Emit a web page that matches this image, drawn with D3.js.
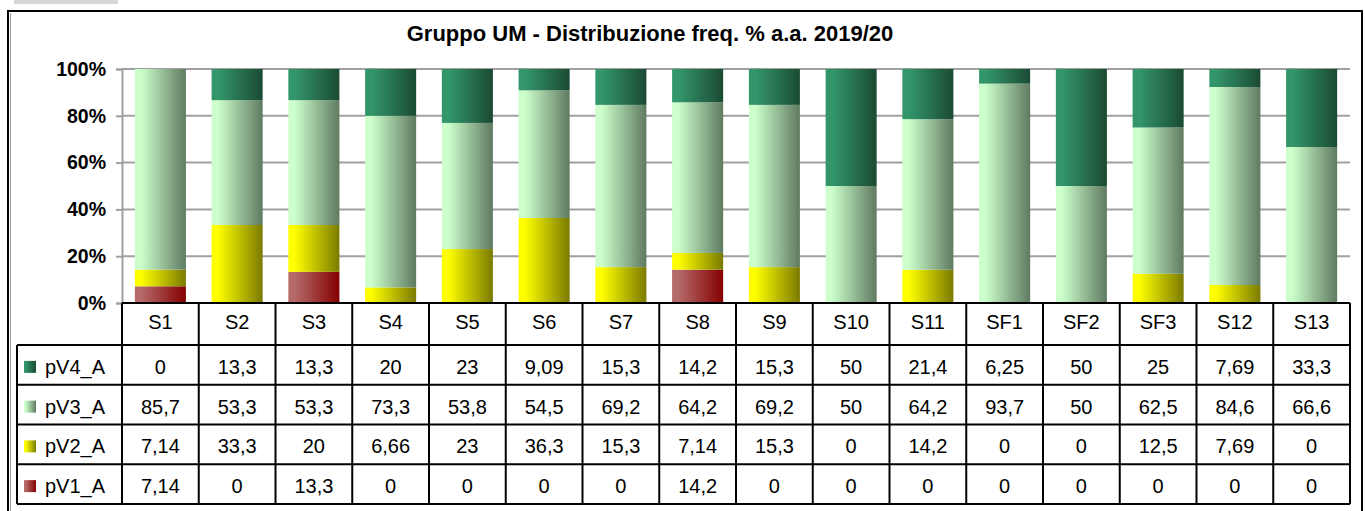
<!DOCTYPE html>
<html lang="it">
<head>
<meta charset="UTF-8">
<title>Gruppo UM - Distribuzione freq. %</title>
<script src="https://d3js.org/d3.v7.min.js"></script>
<style>
  body { margin: 0; background: #fff; }
  svg { display: block; font-family: Arial, "Liberation Sans", sans-serif; }
</style>
</head>
<body>
<svg id="chart" width="1365" height="511"></svg>
<script>
const title = "Gruppo UM - Distribuzione freq. % a.a. 2019/20";
const categories = ["S1","S2","S3","S4","S5","S6","S7","S8","S9","S10","S11","SF1","SF2","SF3","S12","S13"];
const seriesNames = ["pV4_A","pV3_A","pV2_A","pV1_A"]; // table order, top to bottom
const pV4 = [0,13.3,13.3,20,23,9.09,15.3,14.2,15.3,50,21.4,6.25,50,25,7.69,33.3];
const pV3 = [85.7,53.3,53.3,73.3,53.8,54.5,69.2,64.2,69.2,50,64.2,93.7,50,62.5,84.6,66.6];
const pV2 = [7.14,33.3,20,6.66,23,36.3,15.3,7.14,15.3,0,14.2,0,0,12.5,7.69,0];
const pV1 = [7.14,0,13.3,0,0,0,0,14.2,0,0,0,0,0,0,0,0];
const yTicks = [0, 0.2, 0.4, 0.6, 0.8, 1];

const seriesValues = { pV4_A: pV4, pV3_A: pV3, pV2_A: pV2, pV1_A: pV1 };
// gradient colours: light (left) -> dark (right)
const colors = {
  pV4_A: ["#33966b", "#1a4a33"],
  pV3_A: ["#ccffcc", "#5f7a60"],
  pV2_A: ["#ffff00", "#7a7a00"],
  pV1_A: ["#b56a6a", "#850000"]
};

const svg = d3.select("#chart");
const defs = svg.append("defs");
seriesNames.forEach(s => {
  const g = defs.append("linearGradient").attr("id", "g_" + s)
    .attr("x1", "0%").attr("x2", "100%").attr("y1", "0%").attr("y2", "0%");
  g.append("stop").attr("offset", "0%").attr("stop-color", colors[s][0]);
  g.append("stop").attr("offset", "12%").attr("stop-color", colors[s][0]);
  g.append("stop").attr("offset", "100%").attr("stop-color", colors[s][1]);
});

// small grey strip and chart border
svg.append("rect").attr("x", 14).attr("y", 0).attr("width", 104).attr("height", 4).attr("fill", "#d6d6d6");
svg.append("rect").attr("x", 8).attr("y", 11).attr("width", 1354).attr("height", 510)
  .attr("fill", "none").attr("stroke", "#000").attr("stroke-width", 2);
svg.append("line").attr("x1", 10.5).attr("x2", 10.5).attr("y1", 13).attr("y2", 511)
  .attr("stroke", "#999").attr("stroke-width", 1);

svg.append("text").attr("x", 650).attr("y", 41).attr("text-anchor", "middle")
  .attr("font-size", 22).attr("font-weight", "bold").text(title);

const plotLeft = 122, plotRight = 1350, plotTop = 69, plotBottom = 303;
const x = d3.scaleBand().domain(categories).range([plotLeft, plotRight]).paddingInner(0.335).paddingOuter(0.1675);
const col = d3.scaleBand().domain(categories).range([plotLeft, plotRight]);
const y = d3.scaleLinear().domain([0, 1]).range([plotBottom, plotTop]);

// gridlines + y axis
const yAxis = svg.append("g").attr("transform", `translate(${plotLeft},0)`)
  .call(d3.axisLeft(y).tickValues(yTicks).tickFormat(d3.format(".0%")).tickSize(6).tickPadding(10));
yAxis.select(".domain").attr("stroke", "#a0a0a0").attr("stroke-width", 2);
yAxis.selectAll(".tick line").attr("stroke", "#a0a0a0").attr("stroke-width", 2);
yAxis.selectAll(".tick text").attr("font-size", 19.5).attr("font-weight", "bold")
  .attr("font-family", "Arial, 'Liberation Sans', sans-serif").attr("fill", "#000");
svg.append("g").selectAll("line").data(yTicks.filter(d => d > 0)).join("line")
  .attr("x1", plotLeft).attr("x2", plotRight).attr("y1", d => y(d)).attr("y2", d => y(d))
  .attr("stroke", "#a0a0a0").attr("stroke-width", 2);

// stacked bars (bottom pV1 -> top pV4), normalised to 100%
const rows = categories.map((c, i) => {
  const o = { cat: c };
  seriesNames.forEach(s => o[s] = seriesValues[s][i]);
  return o;
});
const stack = d3.stack().keys(["pV1_A","pV2_A","pV3_A","pV4_A"]).offset(d3.stackOffsetExpand);
const layers = stack(rows);
svg.append("g").selectAll("g").data(layers).join("g")
  .attr("fill", d => `url(#g_${d.key})`)
  .selectAll("rect").data(d => d).join("rect")
  .attr("x", d => x(d.data.cat))
  .attr("width", x.bandwidth())
  .attr("y", d => y(d[1]))
  .attr("height", d => y(d[0]) - y(d[1]));

// data table
const rowTop = 345, rowH = 39.75, tableLeft = 17, fs = 20;
const rowsBottom = rowTop + rowH * seriesNames.length;
const t = svg.append("g");
t.selectAll("text.cat").data(categories).join("text").attr("class", "cat")
  .attr("x", d => col(d) + col.bandwidth() / 2).attr("y", 329)
  .attr("text-anchor", "middle").attr("font-size", fs).text(d => d);

seriesNames.forEach((s, r) => {
  const cy = rowTop + rowH * r + rowH / 2;
  t.append("rect").attr("x", 24).attr("y", cy - 4).attr("width", 12).attr("height", 12)
    .attr("fill", `url(#g_${s})`);
  t.append("text").attr("x", 45).attr("y", cy + 9).attr("font-size", fs).text(s);
  t.selectAll(null).data(seriesValues[s]).join("text")
    .attr("x", (d, i) => col(categories[i]) + col.bandwidth() / 2).attr("y", cy + 9)
    .attr("text-anchor", "middle").attr("font-size", fs)
    .text(d => String(d).replace(".", ","));
});

const lines = t.append("g").attr("stroke", "#000").attr("stroke-width", 2);
lines.append("line").attr("x1", plotLeft).attr("x2", plotRight).attr("y1", plotBottom).attr("y2", plotBottom);
d3.range(seriesNames.length + 1).forEach(r => {
  const yy = rowTop + rowH * r;
  lines.append("line").attr("x1", tableLeft).attr("x2", plotRight).attr("y1", yy).attr("y2", yy);
});
lines.append("line").attr("x1", tableLeft).attr("x2", tableLeft).attr("y1", rowTop).attr("y2", rowsBottom);
categories.concat([null]).forEach((c, i) => {
  const xx = c ? col(c) : plotRight;
  lines.append("line").attr("x1", xx).attr("x2", xx).attr("y1", plotBottom).attr("y2", rowsBottom);
});
</script>
</body>
</html>
